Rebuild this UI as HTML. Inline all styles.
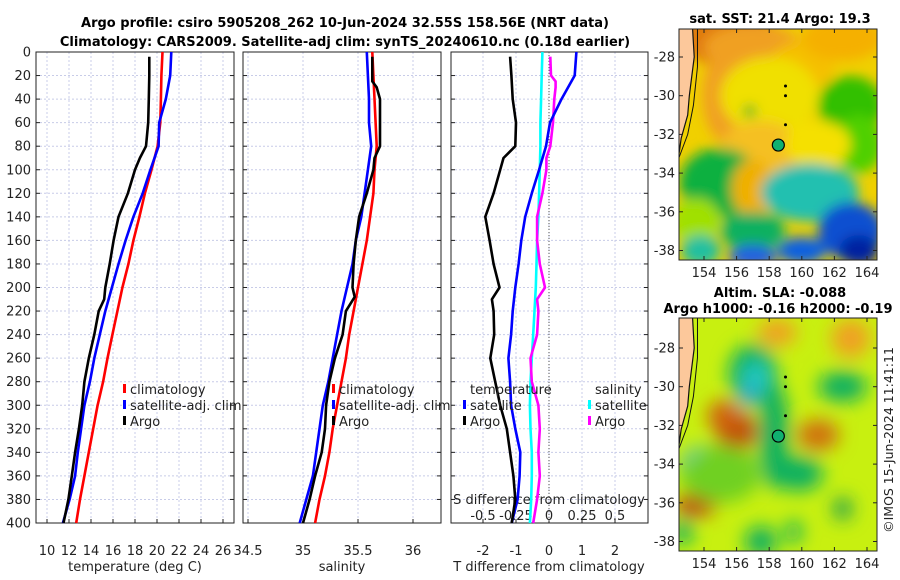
<!DOCTYPE html>
<html><head><meta charset="utf-8"><style>
body{margin:0;background:#fff;}
svg{display:block;font-family:"DejaVu Sans","Liberation Sans",sans-serif;}
</style></head><body>
<svg id="fig" width="900" height="580" viewBox="0 0 900 580">
<defs>
<filter id="blur1" x="-50%" y="-50%" width="200%" height="200%"><feGaussianBlur stdDeviation="6"/></filter>
<filter id="blur2" x="-50%" y="-50%" width="200%" height="200%"><feGaussianBlur stdDeviation="9"/></filter>
<clipPath id="c1"><rect x="679" y="29" width="198" height="231"/></clipPath>
<clipPath id="c2"><rect x="679" y="318" width="198" height="233"/></clipPath>
</defs>
<text x="345" y="27" text-anchor="middle" font-size="13" font-weight="bold">Argo profile: csiro 5905208_262 10-Jun-2024 32.55S 158.56E (NRT data)</text>
<text x="345" y="46" text-anchor="middle" font-size="13" font-weight="bold">Climatology: CARS2009. Satellite-adj clim: synTS_20240610.nc (0.18d earlier)</text>
<g id="plots"></g>
<g id="maps"></g>
<text transform="translate(893,440) rotate(-90)" font-size="12.5" fill="#222" text-anchor="middle">©IMOS 15-Jun-2024 11:41:11</text>
</svg>
<script>
// ---- data ----
const depthStd = [0,20,40,60,80,100,120,140,160,180,200,220,240,260,280,300,320,340,360,380,400];
const tempClim = [20.5,20.4,20.35,20.3,20.05,19.5,18.9,18.4,17.85,17.4,16.85,16.4,15.95,15.5,15.1,14.6,14.2,13.8,13.4,13.0,12.65];
const tempSat = [21.3,21.2,20.8,20.2,20.15,19.4,18.7,17.85,17.15,16.5,15.9,15.3,14.8,14.3,13.9,13.4,13.1,12.8,12.55,12.05,11.45];
const depthArgo = [4,20,40,60,80,90,100,120,140,160,180,200,210,220,240,260,280,300,320,340,360,380,400];
const tempArgo = [19.3,19.3,19.25,19.2,19.0,18.45,18.0,17.35,16.5,16.05,15.7,15.3,15.2,14.7,14.3,13.8,13.4,13.2,12.9,12.55,12.25,11.95,11.5];
const salClim = [35.63,35.64,35.65,35.66,35.67,35.65,35.64,35.61,35.58,35.54,35.5,35.46,35.42,35.39,35.35,35.31,35.27,35.24,35.2,35.15,35.11];
const salSat = [35.58,35.59,35.6,35.6,35.62,35.59,35.56,35.53,35.48,35.45,35.4,35.35,35.31,35.27,35.23,35.18,35.15,35.12,35.09,35.03,34.97];
const depthSalArgo = [4,25,30,40,80,90,100,120,140,160,180,200,208,220,240,260,280,300,320,340,360,380,400];
const salArgo = [35.63,35.63,35.67,35.7,35.7,35.65,35.64,35.58,35.51,35.48,35.46,35.45,35.47,35.39,35.36,35.29,35.24,35.21,35.2,35.17,35.11,35.06,35.0];
const tdiffArgo = [-1.18,-1.14,-1.1,-1.0,-1.02,-1.38,-1.48,-1.68,-1.93,-1.8,-1.68,-1.5,-1.73,-1.68,-1.66,-1.78,-1.63,-1.48,-1.28,-1.18,-1.08,-1.02,-1.13];
const tdiffSat = [0.83,0.78,0.38,0.03,-0.09,-0.3,-0.52,-0.72,-0.84,-0.92,-1.02,-1.1,-1.15,-1.23,-1.18,-1.15,-1.02,-0.87,-0.89,-0.95,-1.13];
const sdiffSat = [-0.05,-0.055,-0.06,-0.065,-0.065,-0.07,-0.075,-0.08,-0.09,-0.095,-0.1,-0.11,-0.12,-0.13,-0.14,-0.145,-0.14,-0.13,-0.13,-0.135,-0.145];
const depthSdiffArgo = [4,20,25,30,40,60,80,90,100,120,140,160,180,200,210,220,240,260,280,300,320,340,360,380,400];
const sdiffArgo = [0.01,0.015,0.05,0.05,0.04,0.03,0.01,-0.02,-0.02,-0.05,-0.09,-0.09,-0.07,-0.03,-0.09,-0.08,-0.09,-0.14,-0.13,-0.08,-0.07,-0.08,-0.07,-0.09,-0.12];
const depthTicks = [0,20,40,60,80,100,120,140,160,180,200,220,240,260,280,300,320,340,360,380,400];
const tempTicks = [10,12,14,16,18,20,22,24,26];
const salTicks = [34.5,35,35.5,36];
const salTickLabels = ["34.5","35","35.5","36"];
const tdTicks = [-2,-1,0,1,2];
const sdTicks = [-0.5,-0.25,0,0.25,0.5];
const sdTickLabels = ["-0.5","-0.25","0","0.25","0.5"];

const NS='http://www.w3.org/2000/svg';
function mk(tag,attrs,parent,txt){const e=document.createElementNS(NS,tag);for(const k in attrs)e.setAttribute(k,attrs[k]);if(txt!==undefined)e.textContent=txt;parent.appendChild(e);return e;}
const G=document.getElementById('plots');
const Y0=52,Y1=523;
const yScale=d=>Y0+(d/400)*(Y1-Y0);
const xT=t=>47+(t-10)*11;
const xS=s=>248+(s-34.5)*110;
const xTD=v=>549+v*33;
const xSD=v=>549+v*132;
const panels=[[36,234],[243,441],[451,648]];

panels.forEach((p,i)=>{
  const g=mk('g',{},G);
  
  
  depthTicks.forEach(d=>{
    const l=mk('line',{x1:p[0],x2:p[1],y1:yScale(d),y2:yScale(d),stroke:'#c8cce8','stroke-dasharray':'2,2','stroke-width':1},g);
    
    
    mk('line',{x1:p[0],x2:p[0]+4,y1:yScale(d),y2:yScale(d),stroke:'#222'},g);
    mk('line',{x1:p[1]-4,x2:p[1],y1:yScale(d),y2:yScale(d),stroke:'#222'},g);
  });
  let xs = i===0? tempTicks.map(xT) : i===1 ? salTicks.map(xS) : tdTicks.map(xTD);
  xs.forEach(x=>{
    const l=mk('line',{x1:x,x2:x,y1:Y0,y2:Y1,stroke:'#c8cce8','stroke-dasharray':'2,2'},g);
    
    
    mk('line',{x1:x,x2:x,y1:Y1-4,y2:Y1,stroke:'#222'},g);
  });
  const fr=mk('rect',{x:p[0],y:Y0,width:p[1]-p[0],height:Y1-Y0,fill:'none',stroke:'#222','stroke-width':1},g);
  
  
});
const zl=mk('line',{x1:xTD(0),x2:xTD(0),y1:Y0,y2:Y1,stroke:'#555','stroke-dasharray':'1,2'},G);



depthTicks.forEach(d=>{
  const t=mk('text',{x:31,y:yScale(d)+4.5,'text-anchor':'end','font-size':13,fill:'#222'},G,String(d));
  
  
});
tempTicks.forEach(v=>{const t=mk('text',{x:xT(v),y:555,'text-anchor':'middle','font-size':13,fill:'#222'},G,String(v));
  });
salTicks.forEach((v,i)=>{const t=mk('text',{x:xS(v),y:555,'text-anchor':'middle','font-size':13,fill:'#222'},G,salTickLabels[i]);
  });
tdTicks.forEach(v=>{const t=mk('text',{x:xTD(v),y:555,'text-anchor':'middle','font-size':13,fill:'#222'},G,String(v));
  });
sdTicks.forEach((v,i)=>{const t=mk('text',{x:xSD(v),y:520,'text-anchor':'middle','font-size':13,fill:'#222'},G,sdTickLabels[i]);
  });
[[135,'temperature (deg C)','x-axis-title-temperature'],[342,'salinity','x-axis-title-salinity'],[549,'T difference from climatology','x-axis-title-tdiff']].forEach(a=>{
  const t=mk('text',{x:a[0],y:571,'text-anchor':'middle','font-size':13,fill:'#222'},G,a[1]);
  });
const sdt=mk('text',{x:549,y:504,'text-anchor':'middle','font-size':13,fill:'#222'},G,'S difference from climatology');



function series(xs,ds,xf,color,name){
  const pts=xs.map((v,i)=>xf(v).toFixed(1)+','+yScale(ds[i]).toFixed(1)).join(' ');
  const p=mk('polyline',{points:pts,fill:'none',stroke:color,'stroke-width':2.6,'stroke-linejoin':'round'},G);
  
  
}
series(tempClim,depthStd,xT,'#ff0000','temp-climatology-line');
series(tempSat,depthStd,xT,'#0000ff','temp-satellite-line');
series(tempArgo,depthArgo,xT,'#000','temp-argo-line');
series(salClim,depthStd,xS,'#ff0000','sal-climatology-line');
series(salSat,depthStd,xS,'#0000ff','sal-satellite-line');
series(salArgo,depthSalArgo,xS,'#000','sal-argo-line');
series(sdiffSat,depthStd,xSD,'#00ffff','sdiff-satellite-line');
series(sdiffArgo,depthSdiffArgo,xSD,'#ff00ff','sdiff-argo-line');
series(tdiffSat,depthStd,xTD,'#0000ff','tdiff-satellite-line');
series(tdiffArgo,depthArgo,xTD,'#000','tdiff-argo-line');

function legend(x,y,color,label,name){
  const g=mk('g',{},G);
  
  
  mk('rect',{x:x-7,y:y-10,width:3,height:9,fill:color},g);
  mk('text',{x:x,y:y,'font-size':13,fill:'#222'},g,label);
}
legend(130,394,'#ff0000','climatology','legend-temp-climatology');
legend(130,410,'#0000ff','satellite-adj. clim','legend-temp-satellite');
legend(130,426,'#000','Argo','legend-temp-argo');
legend(339,394,'#ff0000','climatology','legend-sal-climatology');
legend(339,410,'#0000ff','satellite-adj. clim','legend-sal-satellite');
legend(339,426,'#000','Argo','legend-sal-argo');
const lt=mk('text',{x:470,y:394,'font-size':13,fill:'#222'},G,'temperature');
const ls=mk('text',{x:595,y:394,'font-size':13,fill:'#222'},G,'salinity');
legend(470,410,'#0000ff','satellite','legend-tdiff-satellite');
legend(470,426,'#000','Argo','legend-tdiff-argo');
legend(595,410,'#00ffff','satellite','legend-sdiff-satellite');
legend(595,426,'#ff00ff','Argo','legend-sdiff-argo');
</script>
<script>
// ---- maps ----
const lonTicks=[154,156,158,160,162,164];
const latTicks=[-28,-30,-32,-34,-36,-38];
const argoLon=158.56, argoLat=-32.55;
const M=document.getElementById('maps');
function mk2(tag,attrs,parent,txt){const e=document.createElementNS('http://www.w3.org/2000/svg',tag);for(const k in attrs)e.setAttribute(k,attrs[k]);if(txt!==undefined)e.textContent=txt;parent.appendChild(e);return e;}
function drawMap(top,bottom,latTopY,clip,blobs,base,blur,name,title1,title2){
  const lx=lon=>704+(lon-154)*16.3;
  const ly=lat=>latTopY+(-28-lat)*19.35;
  const g=mk2('g',{},M);
  
  
  const inner=mk2('g',{'clip-path':'url(#'+clip+')'},g);
  mk2('rect',{x:679,y:top,width:198,height:bottom-top,fill:base},inner);
  const bg=mk2('g',{filter:'url(#'+blur+')'},inner);
  blobs.forEach(b=>mk2('ellipse',{cx:lx(b[0]),cy:ly(b[1]),rx:b[2]*16.3,ry:b[3]*19.35,fill:b[4]},bg));
  mk2('path',{d:`M679 ${top} L${lx(153.3)} ${top} L${lx(153.4)} ${ly(-28)} L${lx(153.1)} ${ly(-30)} L${lx(153.0)} ${ly(-31)} L${lx(152.6)} ${ly(-32.2)} L679 ${ly(-33)} Z`,fill:'#fcc89b'},inner);
  mk2('path',{d:`M${lx(153.3)} ${top} L${lx(153.4)} ${ly(-28)} L${lx(153.1)} ${ly(-30)} L${lx(153.0)} ${ly(-31)} L${lx(152.6)} ${ly(-32.2)} L679 ${ly(-33)}`,fill:'none',stroke:'#111','stroke-width':1.2},inner);
  mk2('path',{d:`M${lx(153.6)} ${top} L${lx(153.6)} ${ly(-28.5)} L${lx(153.35)} ${ly(-30.5)} L${lx(153.0)} ${ly(-32)} L679 ${ly(-33.2)}`,fill:'none',stroke:'#111','stroke-width':1},inner);
  [[159,-29.5],[159,-30],[159,-31.5]].forEach(p=>mk2('circle',{cx:lx(p[0]),cy:ly(p[1]),r:1.5,fill:'#000'},inner));
  const ac=mk2('circle',{cx:lx(argoLon),cy:ly(argoLat),r:6,fill:'#10b070',stroke:'#000','stroke-width':1.2},g);
  
  
  mk2('rect',{x:679,y:top,width:198,height:bottom-top,fill:'none',stroke:'#222'},g);
  lonTicks.forEach(l=>{
    mk2('line',{x1:lx(l),x2:lx(l),y1:bottom-4,y2:bottom,stroke:'#222'},g);
    mk2('line',{x1:lx(l),x2:lx(l),y1:top,y2:top+4,stroke:'#222'},g);
    const t=mk2('text',{x:lx(l),y:bottom+17,'text-anchor':'middle','font-size':13,fill:'#222'},g,String(l));
    
    
  });
  latTicks.forEach(l=>{
    mk2('line',{x1:679,x2:683,y1:ly(l),y2:ly(l),stroke:'#222'},g);
    mk2('line',{x1:873,x2:877,y1:ly(l),y2:ly(l),stroke:'#222'},g);
    const t=mk2('text',{x:675,y:ly(l)+4.5,'text-anchor':'end','font-size':13,fill:'#222'},g,String(l));
    
    
  });
  const t1=mk2('text',{x: title2?780:780,y: title2? top-21: top-6,'text-anchor':'middle','font-size':13,'font-weight':'bold'},g,title1);
  
  
  if(title2){const t2=mk2('text',{x:778,y:top-5,'text-anchor':'middle','font-size':13,'font-weight':'bold'},g,title2);
    }
}
const sstBlobs=[
 [155.5,-27,3,1.5,'#e07a10'],[157,-27.5,3,1.2,'#f0a020'],[155.5,-30,1.6,2.5,'#f0a020'],[160,-28.5,2,1.3,'#f5c000'],
 [162.5,-27,2.5,1.2,'#f5b000'],[158,-30,3,2,'#f0e000'],[163,-30.5,2,1.5,'#30c000'],[163.5,-32.5,1.5,1.5,'#50d000'],
 [157.5,-32.8,2.5,1.5,'#f5c020'],[161,-32.5,2,1.2,'#f5e000'],[155,-34.5,2.5,1.8,'#10b040'],[153.5,-36.5,1.5,1.2,'#a0e000'],
 [157,-34.8,1.3,1.5,'#f0b000'],[160.5,-35,3,1.5,'#20c0b0'],[157,-37,2,1,'#10b060'],[157,-38.3,1.5,0.6,'#2060e0'],
 [163,-37,2,1.5,'#1050d0'],[163.5,-38,1.2,0.8,'#0020a0'],[160,-38,1.5,0.7,'#1060e0'],[153.8,-38,1.2,0.8,'#20c0a0'],[156.8,-30.8,0.4,0.3,'#20b020']
];
const slaBlobs=[
 [157,-29.3,1.5,1.5,'#10b060'],[157.2,-29.5,0.9,0.8,'#20c8c0'],[156.7,-30.5,0.6,0.5,'#30a0e0'],[158.3,-32.5,0.9,2.8,'#10b060'],
 [159.8,-34.5,1.5,0.9,'#10b060'],[162.5,-30,1.5,0.8,'#10b060'],[156,-32.3,1.3,1,'#c05010'],[155.2,-31.5,1,0.8,'#d06010'],
 [161,-32.5,1.3,0.8,'#d07010'],[153.8,-34.2,1.3,1.1,'#30b0f0'],[153.8,-34.2,0.9,0.8,'#101090'],[153.5,-36.1,1.3,0.6,'#c04010'],
 [157.5,-38,1,0.8,'#10b060'],[159.5,-37.5,0.5,0.6,'#10b060'],[162.5,-36.3,0.6,0.6,'#20a050'],[163,-27.5,1.2,1,'#f0a020'],
 [158.5,-27.2,1.2,0.7,'#f0a020'],[155,-34.5,2.5,1.5,'#70d020'],[152.7,-37.5,0.6,0.7,'#10b060']
];
drawMap(29,260,57,'c1',sstBlobs,'#f0d000','blur1','sst-map','sat. SST: 21.4 Argo: 19.3');
drawMap(318,551,348,'c2',slaBlobs,'#c8f010','blur2','sla-map','Altim. SLA: -0.088','Argo h1000: -0.16 h2000: -0.19');
</script>
</body></html>
